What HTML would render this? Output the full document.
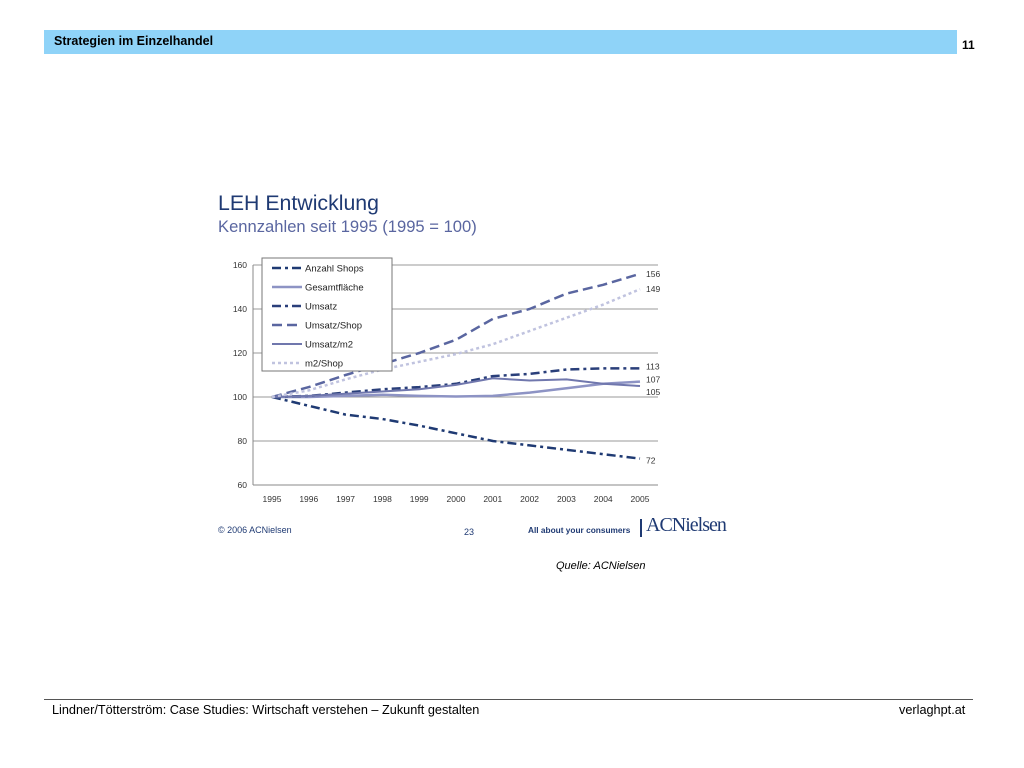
<!DOCTYPE html>
<html><head><meta charset="utf-8"><style>
body{margin:0;width:1024px;height:768px;background:#fff;font-family:"Liberation Sans",sans-serif;position:relative;overflow:hidden}
.abs{position:absolute}
</style></head><body>
<div class="abs" style="left:44px;top:30px;width:913px;height:24px;background:#8fd3f8"></div>
<div class="abs" style="left:54px;top:34px;font-size:12.5px;font-weight:bold;color:#000">Strategien im Einzelhandel</div>
<div class="abs" style="left:962px;top:38px;font-size:12px;font-weight:bold">11</div>
<div class="abs" style="left:218px;top:191px;font-size:21.3px;color:#1f3a73">LEH Entwicklung</div>
<div class="abs" style="left:218px;top:217px;font-size:16.6px;color:#5a66a0">Kennzahlen seit 1995 (1995 = 100)</div>
<svg class="abs" style="left:0;top:0" width="1024" height="768" id="chart"></svg>
<div class="abs" style="left:218px;top:525px;font-size:9px;color:#1f3a73">© 2006 ACNielsen</div>
<div class="abs" style="left:464px;top:527px;font-size:9px;color:#1f3a73">23</div>
<div class="abs" style="left:528px;top:525px;font-size:8.3px;font-weight:bold;color:#1f3a73">All about your consumers</div>
<div class="abs" style="left:640px;top:519px;width:2px;height:18px;background:#1f3a73"></div>
<div class="abs" style="left:646px;top:514px;font-size:20px;font-family:'Liberation Serif',serif;color:#1f3a73;letter-spacing:-1px">ACNielsen</div>
<div class="abs" style="left:556px;top:560px;font-size:11px;font-style:italic">Quelle: ACNielsen</div>
<div class="abs" style="left:44px;top:699px;width:929px;height:1px;background:#555"></div>
<div class="abs" style="left:52px;top:703px;font-size:12.7px">Lindner/Tötterström: Case Studies: Wirtschaft verstehen – Zukunft gestalten</div>
<div class="abs" style="left:899px;top:703px;font-size:12.7px">verlaghpt.at</div>
<script>
const years=[1995,1996,1997,1998,1999,2000,2001,2002,2003,2004,2005];
const yTicks=[60,80,100,120,140,160];
const anzahlShops=[100,96,92,90,87,83.5,80,78,76,74,72];
const gesamtflaeche=[100,100,100.5,101,100.5,100.2,100.5,102,104,106,107];
const umsatz=[100,100.5,102,103.5,104.5,106,109.5,110.5,112.5,113,113];
const umsatzShop=[100,104.5,110,115,120,126,135.5,140,147,151,156];
const umsatzM2=[100,100.5,101.5,102.5,103.5,105.5,108.5,107.5,108,106,105];
const m2Shop=[100,103,108,112.5,116,119.5,124,130,136,142,149];
const endLabels=["72","107","113","156","105","149"];
const NS="http://www.w3.org/2000/svg";
const svg=document.getElementById('chart');
const X=i=>272+i*36.8, Y=v=>485-(v-60)*2.2;
function mk(t,a){const e=document.createElementNS(NS,t);for(const k in a)e.setAttribute(k,a[k]);svg.appendChild(e);return e;}
yTicks.forEach(t=>{
 const g=mk('line',{x1:253,x2:658,y1:Y(t),y2:Y(t),stroke:t==60?'#888':'#999','stroke-width':1});
 
 
 const l=mk('text',{x:247,y:Y(t)+3,'text-anchor':'end','font-size':8.5,fill:'#333','font-family':'Liberation Sans'});
 l.textContent=t;
 
 
});
mk('line',{x1:253,x2:253,y1:Y(160),y2:Y(60),stroke:'#888'});
years.forEach((yr,i)=>{
 const l=mk('text',{x:X(i),y:502,'text-anchor':'middle','font-size':8.5,fill:'#333','font-family':'Liberation Sans'});
 l.textContent=yr;
 
 
});
const series=[
 {n:'Anzahl Shops',d:anzahlShops,c:'#1f3a73',w:2.5,da:'9 4 3 4'},
 {n:'Gesamtfläche',d:gesamtflaeche,c:'#8d93c4',w:2.5,da:''},
 {n:'Umsatz',d:umsatz,c:'#2a3f7a',w:2.5,da:'9 4 3 4'},
 {n:'Umsatz/Shop',d:umsatzShop,c:'#5a66a0',w:2.5,da:'10 5'},
 {n:'Umsatz/m2',d:umsatzM2,c:'#7077ad',w:2,da:''},
 {n:'m2/Shop',d:m2Shop,c:'#c0c3df',w:2.5,da:'3 3'}
];
series.forEach((s,k)=>{
 const p=mk('polyline',{points:s.d.map((v,i)=>X(i)+','+Y(v)).join(' '),fill:'none',stroke:s.c,'stroke-width':s.w,'stroke-dasharray':s.da});
 
 
});
const offs=[2,-2,-2,0,6,0];
series.forEach((s,k)=>{
 const v=s.d[s.d.length-1];
 const t=mk('text',{x:646,y:Y(v)+3+offs[k],'font-size':8.5,fill:'#333','font-family':'Liberation Sans'});
 t.textContent=endLabels[k];
 
 
});
const lb=mk('rect',{x:262,y:258,width:130,height:113,fill:'#fff',stroke:'#777'});


series.forEach((s,k)=>{
 const y=268+k*19;
 mk('line',{x1:272,x2:302,y1:y,y2:y,stroke:s.c,'stroke-width':s.w,'stroke-dasharray':s.da});
 const t=mk('text',{x:305,y:y+3.5,'font-size':9.5,fill:'#222','font-family':'Liberation Sans'});
 t.textContent=s.n;
 
 
});
</script>
</body></html>
